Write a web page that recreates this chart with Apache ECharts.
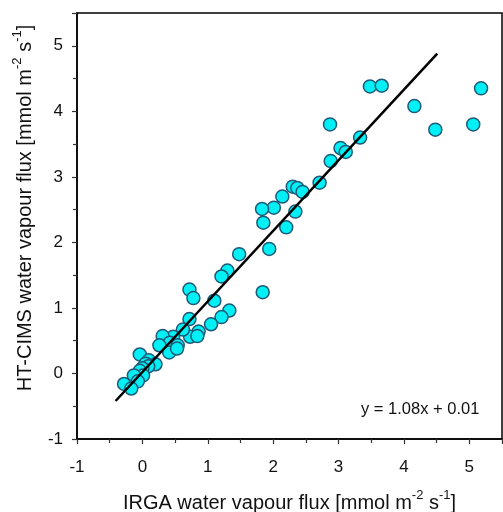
<!DOCTYPE html>
<html>
<head>
<meta charset="utf-8">
<script src="https://cdn.jsdelivr.net/npm/echarts@6/dist/echarts.min.js"></script>
<style>html,body{margin:0;padding:0;background:#fff;overflow:hidden;}#c{width:503px;height:512px;}</style>
</head>
<body>
<div id="c"></div>
<script>
const irga = [3.48,3.66,5.18,4.16,2.87,4.48,5.06,3.33,3.03,3.11,2.88,2.71,2.30,2.37,2.45,2.14,2.01,2.34,2.20,1.83,1.85,1.94,1.84,1.48,1.30,1.21,1.10,1.33,1.21,1.05,0.72,0.78,0.72,0.86,0.73,0.84,0.62,0.47,0.31,0.42,0.54,0.26,0.41,0.53,-0.04,0.10,0.20,0.05,0.09,0.00,-0.04,0.01,-0.13,-0.07,-0.28,-0.17];
const htcims = [4.38,4.39,4.35,4.08,3.80,3.72,3.80,3.60,3.44,3.38,3.24,2.91,2.85,2.83,2.77,2.70,2.53,2.47,2.23,2.51,2.30,1.90,1.24,1.82,1.57,1.48,1.11,0.96,0.86,0.75,1.28,1.15,0.83,0.64,0.56,0.57,0.67,0.56,0.57,0.47,0.43,0.43,0.32,0.38,0.29,0.20,0.14,0.15,0.11,0.08,0.04,-0.03,-0.03,-0.12,-0.16,-0.23];
const fitX = [-0.41, 4.51];
const fitY = [-0.42, 4.88];
const xTicks = [-1,0,1,2,3,4,5];
const equation = 'y = 1.08x + 0.01';

const chart = echarts.init(document.getElementById('c'), null, {renderer:'canvas'});
const font = 'Liberation Sans, Arial, sans-serif';
const rich = {
  a:{fontSize:20, fontFamily:font, color:'#111', lineHeight:24, verticalAlign:'bottom'},
  s:{fontSize:13, fontFamily:font, color:'#111', lineHeight:24, verticalAlign:'top', padding:[0,0,9,0]}
};
chart.setOption({
  animation:false,
  grid:{left:77, right:1, top:13, bottom:73, containLabel:false, outerBoundsMode:'none', show:true, borderColor:'#000', borderWidth:1.5},
  xAxis:{
    type:'value', min:-1, max:5.5, interval:1,
    axisLine:{show:true, onZero:false, lineStyle:{color:'#000', width:1.5}},
    axisTick:{show:true, inside:false, length:5, lineStyle:{color:'#333', width:1.2}},
    minorTick:{show:true, splitNumber:2, length:4, lineStyle:{color:'#333', width:1.2}},
    splitLine:{show:false},
    axisLabel:{fontSize:17, fontFamily:font, color:'#111', margin:20,
      formatter:v=> xTicks.includes(v) ? String(v) : ''},
    name:'{a|IRGA water vapour flux [mmol m}{s|-2}{a| s}{s|-1}{a|]}',
    nameLocation:'middle', nameGap:50,
    nameTextStyle:{rich:rich}
  },
  yAxis:{
    type:'value', min:-1, max:5.5, interval:1,
    axisLine:{show:true, onZero:false, lineStyle:{color:'#000', width:1.5}},
    axisTick:{show:true, inside:false, length:5, lineStyle:{color:'#333', width:1.2}},
    minorTick:{show:true, splitNumber:2, length:4, lineStyle:{color:'#333', width:1.2}},
    splitLine:{show:false},
    axisLabel:{fontSize:17, fontFamily:font, color:'#111', margin:14,
      formatter:v=> (v<=5 && Number.isInteger(v)) ? String(v) : ''},
    name:'{a|HT-CIMS water vapour flux [mmol m}{s|-2}{a| s}{s|-1}{a|]}',
    nameLocation:'middle', nameGap:42, nameRotate:90,
    nameTextStyle:{rich:rich, padding:[0,0,0,36]}
  },
  graphic:[{type:'text', left:361, top:401, style:{text:equation, fontSize:16.5, fontFamily:font, fill:'#111'}}],
  series:[
    {type:'line', data:fitX.map((x,i)=>[x,fitY[i]]), symbol:'none', lineStyle:{color:'#000', width:2.5}, z:3},
    {type:'scatter', data:irga.map((x,i)=>[x,htcims[i]]), symbol:'circle', symbolSize:13,
     itemStyle:{color:'#00F0F5', borderColor:'#1E5A78', borderWidth:1.5, opacity:1}, z:2}
  ]
});
</script>
</body>
</html>
